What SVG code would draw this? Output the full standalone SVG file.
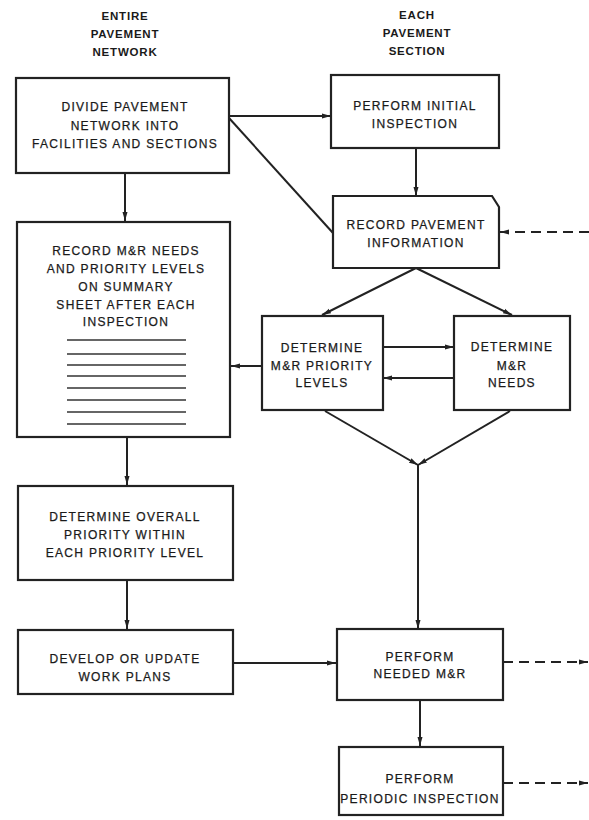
<svg xmlns="http://www.w3.org/2000/svg" width="589" height="820" viewBox="0 0 589 820">
<style>
.box{fill:#fff;stroke:#222;stroke-width:2.2}
.ln{fill:none;stroke:#222;stroke-width:2}
.dash{fill:none;stroke:#222;stroke-width:2;stroke-dasharray:10 6}
.sheet{stroke:#333;stroke-width:1.3}
text{font-family:"Liberation Sans",Arial,sans-serif;font-size:12px;fill:#1a1a1a;stroke:#1a1a1a;stroke-width:0.25;text-anchor:middle;letter-spacing:1.3px}
.hd{font-weight:bold;font-size:11.5px;letter-spacing:0.8px;stroke-width:0}
</style>
<defs>
<marker id="ah" markerWidth="10" markerHeight="6" refX="9" refY="3" orient="auto" markerUnits="userSpaceOnUse">
<path d="M0,0.5 L9,3 L0,5.5 z" fill="#222"/>
</marker>
</defs>
<rect width="589" height="820" fill="#fff"/>
<g id="headers">
<text class="hd" x="125" y="20">ENTIRE</text>
<text class="hd" x="125" y="38">PAVEMENT</text>
<text class="hd" x="125" y="56">NETWORK</text>
<text class="hd" x="417" y="19">EACH</text>
<text class="hd" x="417" y="37">PAVEMENT</text>
<text class="hd" x="417" y="55">SECTION</text>
</g>
<g id="connectors">
<line class="ln" x1="229" y1="116" x2="331" y2="116" marker-end="url(#ah)"/>
<line class="ln" x1="229" y1="118" x2="333" y2="233"/>
<line class="ln" x1="416" y1="148" x2="416" y2="196" marker-end="url(#ah)"/>
<line class="dash" x1="589" y1="232" x2="500" y2="232" marker-end="url(#ah)"/>
<line class="ln" x1="416" y1="268" x2="322" y2="315" marker-end="url(#ah)"/>
<line class="ln" x1="416" y1="268" x2="512" y2="315" marker-end="url(#ah)"/>
<line class="ln" x1="383" y1="347" x2="454" y2="347" marker-end="url(#ah)"/>
<line class="ln" x1="454" y1="378" x2="383" y2="378" marker-end="url(#ah)"/>
<line class="ln" x1="262" y1="366" x2="231" y2="366" marker-end="url(#ah)"/>
<line class="ln" x1="325" y1="411" x2="418" y2="465" marker-end="url(#ah)"/>
<line class="ln" x1="510" y1="411" x2="418" y2="465" marker-end="url(#ah)"/>
<line class="ln" x1="418" y1="465" x2="418" y2="629" marker-end="url(#ah)"/>
<line class="ln" x1="125" y1="173" x2="125" y2="221" marker-end="url(#ah)"/>
<line class="ln" x1="127" y1="437" x2="127" y2="485" marker-end="url(#ah)"/>
<line class="ln" x1="127" y1="580" x2="127" y2="629" marker-end="url(#ah)"/>
<line class="ln" x1="233" y1="663" x2="336" y2="663" marker-end="url(#ah)"/>
<line class="ln" x1="420" y1="700" x2="420" y2="746" marker-end="url(#ah)"/>
<line class="dash" x1="503" y1="662" x2="588" y2="662" marker-end="url(#ah)"/>
<line class="dash" x1="503" y1="783" x2="588" y2="783" marker-end="url(#ah)"/>
</g>
<g id="divide">
<rect class="box" x="16" y="78" width="213" height="95"/>
<text x="125" y="111">DIVIDE PAVEMENT</text>
<text x="125" y="130">NETWORK INTO</text>
<text x="125" y="148">FACILITIES AND SECTIONS</text>
</g>
<g id="initial">
<rect class="box" x="331" y="75" width="168" height="73"/>
<text x="415" y="110">PERFORM INITIAL</text>
<text x="415" y="128">INSPECTION</text>
</g>
<g id="record">
<path class="box" d="M333,196 L492,196 L499,207 L499,268 L333,268 Z"/>
<text x="416" y="229">RECORD PAVEMENT</text>
<text x="416" y="247">INFORMATION</text>
</g>
<g id="priority">
<rect class="box" x="262" y="316" width="121" height="94"/>
<text x="322" y="352">DETERMINE</text>
<text x="322" y="370">M&amp;R PRIORITY</text>
<text x="322" y="387">LEVELS</text>
</g>
<g id="needs">
<rect class="box" x="454" y="316" width="116" height="94"/>
<text x="512" y="351">DETERMINE</text>
<text x="512" y="370">M&amp;R</text>
<text x="512" y="387">NEEDS</text>
</g>
<g id="summary">
<rect class="box" x="17" y="222" width="213" height="215"/>
<text x="126" y="255">RECORD M&amp;R NEEDS</text>
<text x="126" y="273">AND PRIORITY LEVELS</text>
<text x="126" y="291">ON SUMMARY</text>
<text x="126" y="309">SHEET AFTER EACH</text>
<text x="126" y="326">INSPECTION</text>
<line class="sheet" x1="67" y1="340" x2="186" y2="340"/>
<line class="sheet" x1="67" y1="354" x2="186" y2="354"/>
<line class="sheet" x1="67" y1="365" x2="186" y2="365"/>
<line class="sheet" x1="67" y1="376" x2="186" y2="376"/>
<line class="sheet" x1="67" y1="388" x2="186" y2="388"/>
<line class="sheet" x1="67" y1="400" x2="186" y2="400"/>
<line class="sheet" x1="67" y1="412" x2="186" y2="412"/>
<line class="sheet" x1="67" y1="424" x2="186" y2="424"/>
</g>
<g id="overall">
<rect class="box" x="18" y="486" width="215" height="94"/>
<text x="125" y="521">DETERMINE OVERALL</text>
<text x="125" y="539">PRIORITY WITHIN</text>
<text x="125" y="557">EACH PRIORITY LEVEL</text>
</g>
<g id="develop">
<rect class="box" x="18" y="630" width="215" height="64"/>
<text x="125" y="663">DEVELOP OR UPDATE</text>
<text x="125" y="681">WORK PLANS</text>
</g>
<g id="needed">
<rect class="box" x="337" y="629" width="166" height="71"/>
<text x="420" y="661">PERFORM</text>
<text x="420" y="678">NEEDED M&amp;R</text>
</g>
<g id="periodic">
<rect class="box" x="339" y="747" width="164" height="68"/>
<text x="420" y="783">PERFORM</text>
<text x="420" y="803">PERIODIC INSPECTION</text>
</g>
</svg>
